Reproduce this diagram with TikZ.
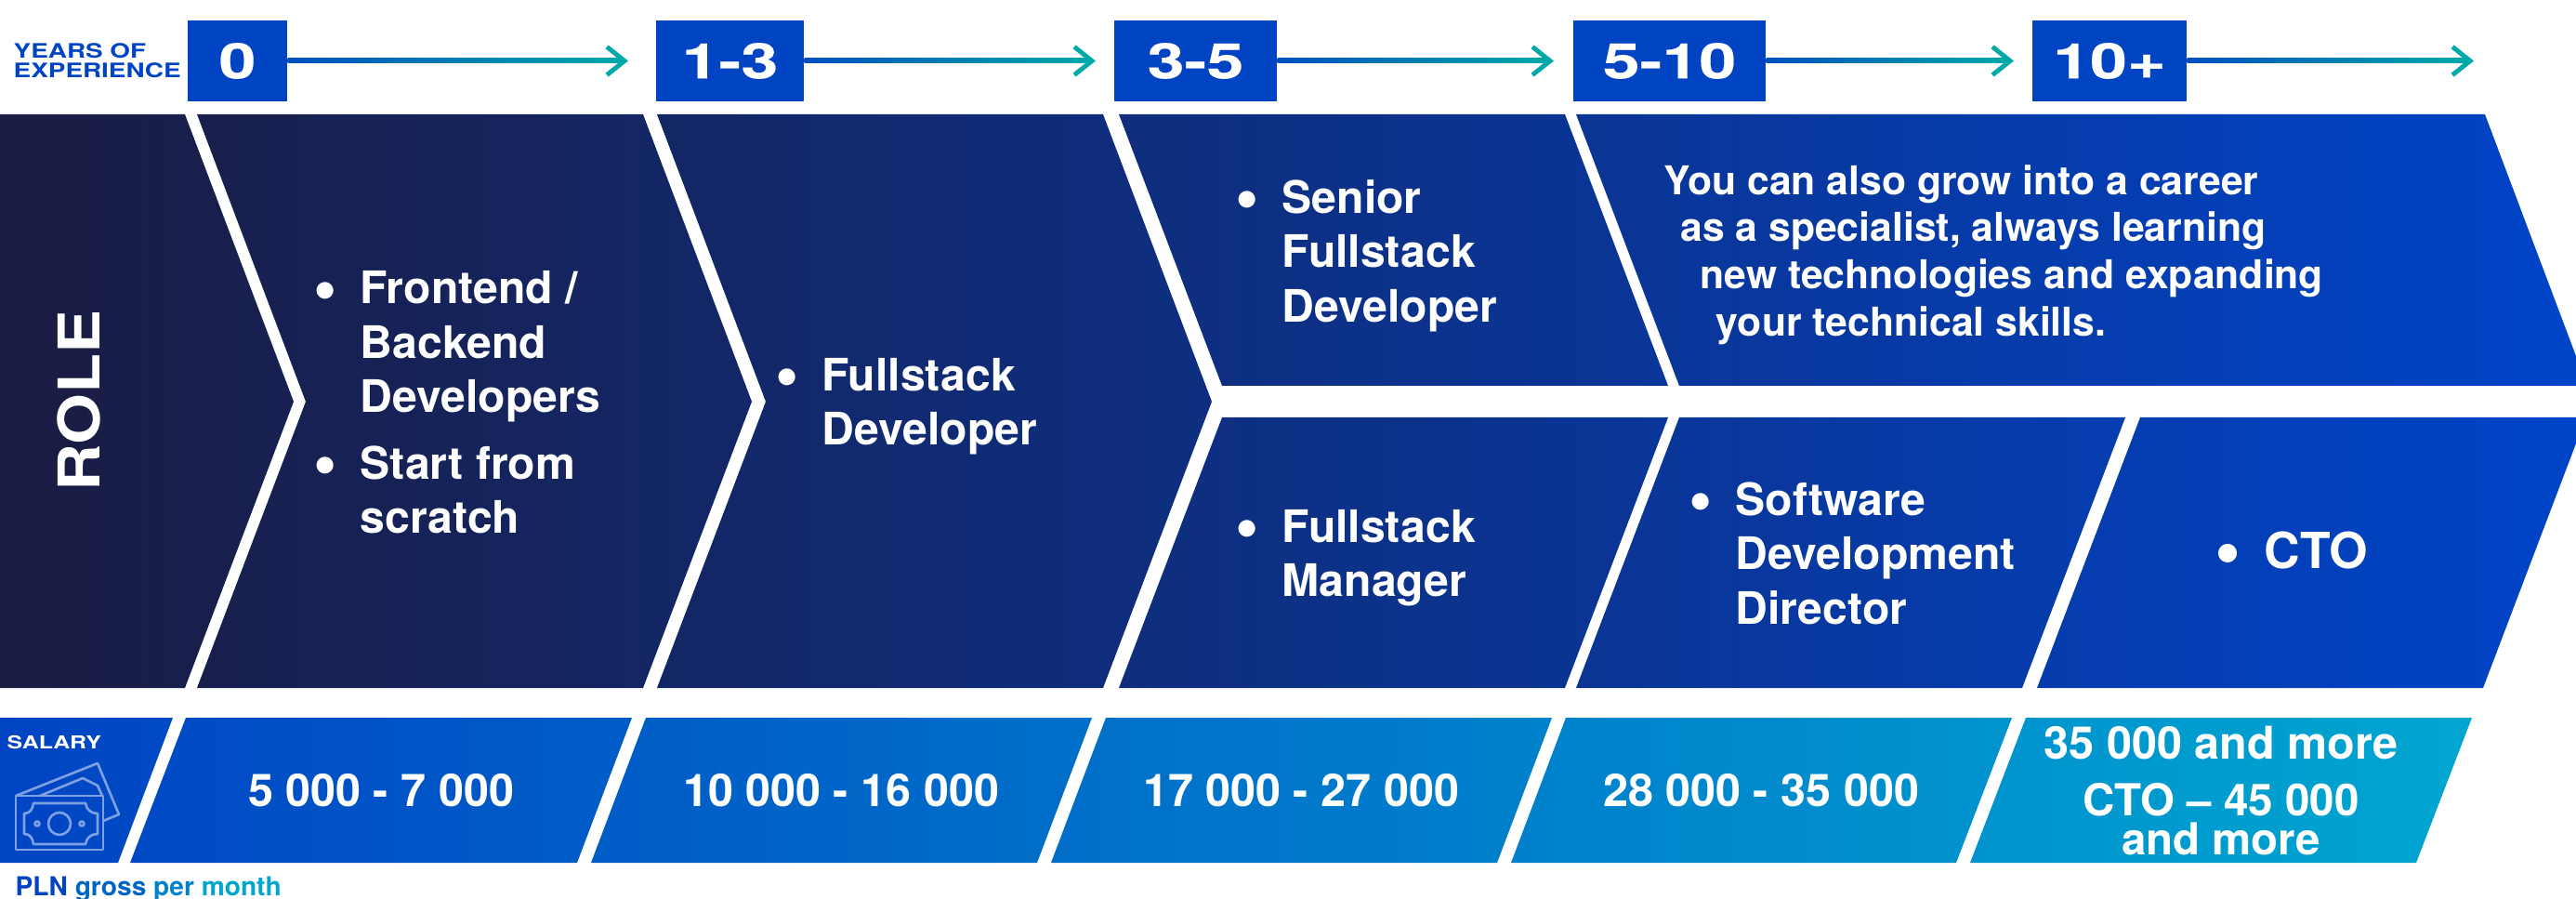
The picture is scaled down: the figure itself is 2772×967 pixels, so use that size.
\documentclass[tikz,border=0pt]{standalone}
\usepackage{fontspec}
\setmainfont{TeX Gyre Heros}
\newfontfamily\widefont[FakeStretch=1.3]{TeX Gyre Heros}
\newfontfamily\yearfont[FakeStretch=1.36,FakeBold=0.35]{TeX Gyre Heros}
\newfontfamily\rolefont[FakeStretch=1.14]{TeX Gyre Heros}
\usetikzlibrary{arrows.meta,calc}
\definecolor{roleleft}{HTML}{1A1C42}
\definecolor{roleright}{HTML}{0044C8}
\definecolor{salaryleft}{HTML}{0044C4}
\definecolor{salaryright}{HTML}{00A6D0}
\definecolor{linestart}{HTML}{0050BE}
\definecolor{lineend}{HTML}{00A8A8}
\definecolor{iconline}{HTML}{7FA0E2}
\definecolor{grossword}{HTML}{0064C2}
\definecolor{perword}{HTML}{0082C8}
\tikzset{
  yearbox/.style={fill=salaryleft, text=white, inner sep=0pt, minimum height=87*0.01cm,
    font=\yearfont\bfseries\fontsize{15}{18}\selectfont},
  roletext/.style={anchor=west, inner sep=0pt, align=left, text=white,
    font=\bfseries\fontsize{13.7}{16.6}\selectfont},
  salarytext/.style={inner sep=0pt, align=center, text=white,
    font=\bfseries\fontsize{13.8}{16.6}\selectfont},
  smallhead/.style={inner sep=0pt, align=left,
    font=\widefont\bfseries\fontsize{6.1}{6}\selectfont},
  yearline/.style={draw=lineend, line width=1.4pt, -{Straight Barb[length=5.4pt,width=8.6pt]}},
  billline/.style={draw=iconline, line width=0.75pt, line join=round},
}
\newcommand{\bul}{\llap{\raisebox{-0.15em}{\scalebox{1.5}{\textbullet}}\hspace{7.2pt}}}
\newcommand{\yeararrow}[2]{%
  \draw [yearline] (#1.east) -- (#2);
  \shade [left color=linestart, right color=lineend] ($ (#1.east) + ( 0, -2.5 ) $) rectangle ($ (#2) + ( -10, 2.5 ) $);
}
\begin{document}
\begin{tikzpicture}[x=0.01cm, y=-0.01cm]
\useasboundingbox ( 0, 0 ) rectangle ( 2772, 967 );
% роли
\shade [left color=roleleft, right color=roleright]
  ( 0, 123 ) -- ( 199, 123 ) -- ( 316, 432 ) -- ( 199, 740 ) -- ( 0, 740 ) -- cycle
  ( 212, 123 ) -- ( 692, 123 ) -- ( 809, 432 ) -- ( 692, 740 ) -- ( 212, 740 ) -- ( 329, 432 ) -- cycle
  ( 707, 123 ) -- ( 1187, 123 ) -- ( 1304, 432 ) -- ( 1187, 740 ) -- ( 707, 740 ) -- ( 824, 432 ) -- cycle
  ( 1204, 123 ) -- ( 1684, 123 ) -- ( 1795, 415 ) -- ( 1315, 415 ) -- cycle
  ( 1315, 449 ) -- ( 1795, 449 ) -- ( 1684, 740 ) -- ( 1204, 740 ) -- cycle
  ( 1696, 123 ) -- ( 2674, 123 ) -- ( 2772, 383 ) -- ( 2772, 415 ) -- ( 1807, 415 ) -- cycle
  ( 1807, 449 ) -- ( 2287, 449 ) -- ( 2176, 740 ) -- ( 1696, 740 ) -- cycle
  ( 2303, 449 ) -- ( 2772, 449 ) -- ( 2772, 477 ) -- ( 2672, 740 ) -- ( 2192, 740 ) -- cycle;
% зарплаты
\shade [left color=salaryleft, right color=salaryright]
  ( 0, 772 ) -- ( 186, 772 ) -- ( 127, 928 ) -- ( 0, 928 ) -- cycle
  ( 200, 772 ) -- ( 680, 772 ) -- ( 621, 928 ) -- ( 140, 928 ) -- cycle
  ( 695, 772 ) -- ( 1175, 772 ) -- ( 1116, 928 ) -- ( 636, 928 ) -- cycle
  ( 1190, 772 ) -- ( 1670, 772 ) -- ( 1611, 928 ) -- ( 1131, 928 ) -- cycle
  ( 1685, 772 ) -- ( 2165, 772 ) -- ( 2105, 928 ) -- ( 1626, 928 ) -- cycle
  ( 2180, 772 ) -- ( 2660, 772 ) -- ( 2600, 928 ) -- ( 2120, 928 ) -- cycle;
% годы опыта
\node [smallhead, text=salaryleft, anchor=west] (years) at ( 14, 65 ) {YEARS OF\\EXPERIENCE};
\node [yearbox, minimum width=107*0.01cm] (y0) at ( 255.5, 65.5 ) {0};
\node [yearbox, minimum width=159*0.01cm] (y1) at ( 785.5, 65.5 ) {1-3};
\node [yearbox, minimum width=175*0.01cm] (y3) at ( 1286.5, 65.5 ) {3-5};
\node [yearbox, minimum width=207*0.01cm] (y5) at ( 1796.5, 65.5 ) {5-10};
\node [yearbox, minimum width=166*0.01cm] (y10) at ( 2270, 65.5 ) {10+};
\coordinate (t0) at ( 676, 65.5 );
\coordinate (t1) at ( 1179, 65.5 );
\coordinate (t3) at ( 1672, 65.5 );
\coordinate (t5) at ( 2167, 65.5 );
\coordinate (t10) at ( 2662, 65.5 );
\yeararrow{y0}{t0}
\yeararrow{y1}{t1}
\yeararrow{y3}{t3}
\yeararrow{y5}{t5}
\yeararrow{y10}{t10}
% подписи ролей
\node [text=white, rotate=90, inner sep=0pt, font=\rolefont\bfseries\fontsize{17.6}{22}\selectfont] (role) at ( 85, 431 ) {ROLE};
\node [roletext] (frontend) at ( 387, 373 ) {\bul Frontend /\\Backend\\Developers};
\node [roletext] (scratch) at ( 387, 527 ) {\bul Start from\\scratch};
\node [roletext] (fullstack) at ( 884, 437 ) {\bul Fullstack\\Developer};
\node [roletext] (senior) at ( 1379, 275 ) {\bul Senior\\Fullstack\\Developer};
\node [roletext] (manager) at ( 1379, 600 ) {\bul Fullstack\\Manager};
\node [roletext] (director) at ( 1867, 595 ) {\bul Software\\Development\\Director};
\node [roletext, font=\bfseries\fontsize{15.2}{18}\selectfont] (cto) at ( 2436, 596 ) {\bul CTO};
\node [roletext, font=\bfseries\fontsize{12.15}{14.4}\selectfont] (specialist) at ( 1790, 274 )
  {You can also grow into a career\\\hspace*{5pt}as a specialist, always learning\\\hspace*{11pt}new technologies and expanding\\\hspace*{16pt}your technical skills.};
% подписи зарплат
\node [smallhead, text=white, anchor=west, font=\widefont\bfseries\fontsize{5.45}{6}\selectfont] (salary) at ( 7, 799 ) {SALARY};
\node [salarytext] (s0) at ( 410, 850 ) {5 000 - 7 000};
\node [salarytext] (s1) at ( 905, 850 ) {10 000 - 16 000};
\node [salarytext] (s3) at ( 1400, 850 ) {17 000 - 27 000};
\node [salarytext] (s5) at ( 1895, 850 ) {28 000 - 35 000};
\node [salarytext] (s10) at ( 2390, 799 ) {35 000 and more};
\node [salarytext, font=\bfseries\fontsize{13.5}{12}\selectfont] (s10cto) at ( 2390, 881 ) {CTO -- 45 000\\and more};
\node [inner sep=0pt, anchor=base west, font=\bfseries\fontsize{8}{9}\selectfont] (pln) at ( 16, 963 )
  {\textcolor{salaryleft}{PLN} \textcolor{grossword}{gross} \textcolor{perword}{per} \textcolor{salaryright}{month}};
% банкноты
\draw [billline] ( 17, 856 ) -- ( 105, 821 ) -- ( 128, 876 ) -- ( 111, 883 );
\draw [billline] ( 43, 856 ) -- ( 89, 837 ) -- ( 105, 845 ) -- ( 110, 856 );
\draw [billline] ( 17, 856 ) rectangle ( 111, 914 );
\draw [billline] ( 36, 864 ) -- ( 92, 864 ) .. controls ( 93, 871 ) and ( 98, 875 ) .. ( 105, 875 ) -- ( 105, 897 )
  .. controls ( 98, 897 ) and ( 93, 901 ) .. ( 92, 908 ) -- ( 36, 908 ) .. controls ( 35, 901 ) and ( 32, 897 ) .. ( 26, 897 )
  -- ( 26, 875 ) .. controls ( 32, 875 ) and ( 35, 871 ) .. ( 36, 864 ) -- cycle;
\draw [billline] ( 64, 886 ) circle [radius=12];
\draw [billline] ( 40, 886 ) circle [radius=2.5];
\draw [billline] ( 88, 886 ) circle [radius=2.5];
\end{tikzpicture}
\end{document}
